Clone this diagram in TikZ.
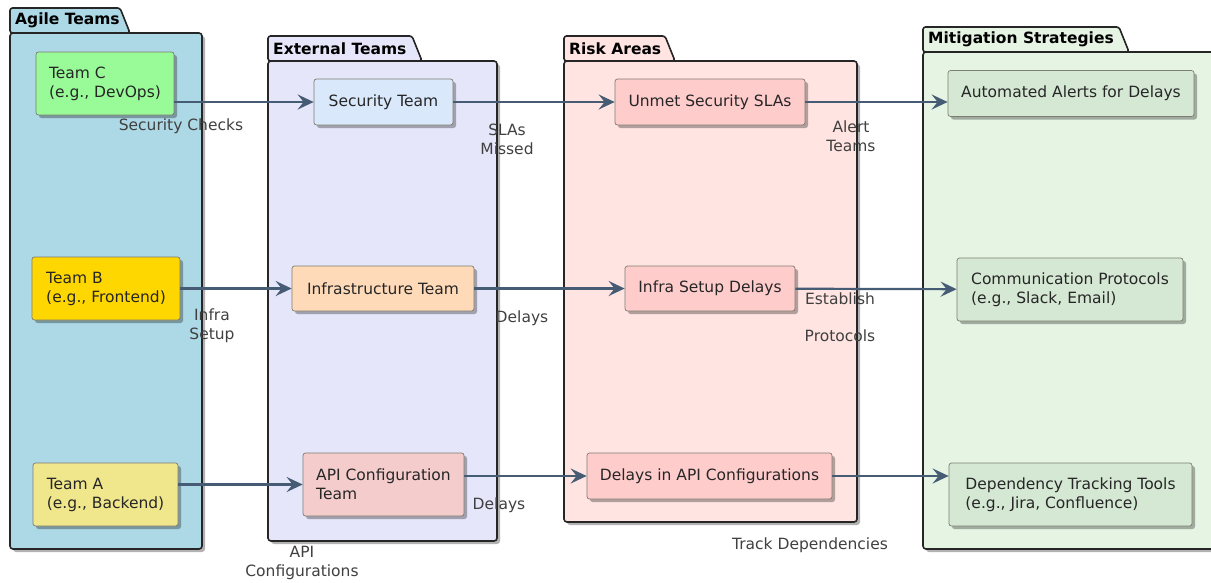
\documentclass[tikz,border=0pt]{standalone}
\usepackage{fontspec}
\setmainfont{DejaVu Sans}
\usepackage{xcolor}
\usepackage{tikz}
\usetikzlibrary{arrows.meta,shadows,positioning,calc}

\definecolor{linkcol}{RGB}{70,92,116}
\definecolor{boxline}{RGB}{125,125,112}
\definecolor{agilebg}{HTML}{ADD8E6}
\definecolor{extbg}{HTML}{E6E6FA}
\definecolor{riskbg}{HTML}{FFE4E1}
\definecolor{mitbg}{HTML}{E6F4E4}
\definecolor{teamCcol}{HTML}{98FB98}
\definecolor{teamBcol}{HTML}{FFD700}
\definecolor{teamAcol}{HTML}{F0E68C}
\definecolor{seccol}{HTML}{DAE8FC}
\definecolor{infracol}{HTML}{FFDAB9}
\definecolor{apicol}{HTML}{F4CCCC}
\definecolor{riskcol}{HTML}{FFCCCC}
\definecolor{mitcol}{HTML}{D5E8D4}

\tikzset{
  soft shadow/.style={drop shadow={shadow xshift=3pt,shadow yshift=-3pt,opacity=.3,fill=black}},
  box/.style={draw=boxline,line width=.7pt,rounded corners=2.5pt,soft shadow,
    inner sep=0pt,align=left,text=black!85,font=\fontsize{15.5}{19}\selectfont},
  link/.style={draw=linkcol,line width=2.2pt,-{Stealth[length=16pt,width=15pt,inset=6pt]}},
  lbl/.style={inner sep=0pt,align=center,text=black!75,font=\fontsize{15.5}{19}\selectfont},
  pkgline/.style={draw=black!85,line width=1.6pt},
}

% 包：#1 名称 #2 填充色 #3 x0 #4 标签顶 #5 标签右 #6 x1 #7 y1 #8 标题
\newcommand{\pkgbox}[8]{%
  \filldraw[pkgline,fill=#2,rounded corners=3pt,soft shadow] (#3,#4+25) rectangle (#6,#7);
  \filldraw[pkgline,fill=#2,rounded corners=2.5pt] (#3,#4+25) -- (#3,#4) -- (#5,#4) -- (#5+10,#4+25) -- cycle;
  \node[anchor=west,inner sep=0pt,font=\fontsize{15.5}{19}\selectfont\bfseries] (#1) at (#3+5,#4+12.5) {#8};
}

\begin{document}
\begin{tikzpicture}[x=1pt,y=-1pt]
  \useasboundingbox (0,0) rectangle (1211,582);
  \clip (0,0) rectangle (1211,582); % 右侧包超出画面
  \pkgbox{agile}{agilebg}{10}{8}{120}{202}{549}{Agile Teams}
  \pkgbox{ext}{extbg}{268}{36}{412}{497}{541}{External Teams}
  \pkgbox{risk}{riskbg}{564}{36}{665}{857}{522}{Risk Areas}
  \pkgbox{mit}{mitbg}{923}{27}{1119}{1240}{549}{Mitigation Strategies}

  \node[box,fill=teamCcol,minimum width=138pt,minimum height=63pt] (teamC) at (105,83.5) {Team C\\(e.g., DevOps)};
  \node[box,fill=teamBcol,minimum width=148pt,minimum height=63pt] (teamB) at (106,288.5) {Team B\\(e.g., Frontend)};
  \node[box,fill=teamAcol,minimum width=145pt,minimum height=63pt] (teamA) at (105.5,494.5) {Team A\\(e.g., Backend)};

  \node[box,fill=seccol,minimum width=139pt,minimum height=46pt] (secT) at (383.5,102) {Security Team};
  \node[box,fill=infracol,minimum width=182pt,minimum height=45pt] (infraT) at (383,288.5) {Infrastructure Team};
  \node[box,fill=apicol,minimum width=161pt,minimum height=63pt] (apiT) at (383.5,484.5) {API Configuration\\Team};

  \node[box,fill=riskcol,minimum width=190pt,minimum height=46pt] (unmet) at (710,102) {Unmet Security SLAs};
  \node[box,fill=riskcol,minimum width=170pt,minimum height=45pt] (infraD) at (710,288.5) {Infra Setup Delays};
  \node[box,fill=riskcol,minimum width=245pt,minimum height=46pt] (apiD) at (709.5,476) {Delays in API Configurations};

  \node[box,fill=mitcol,minimum width=246pt,minimum height=46pt] (alerts) at (1071,93.5) {Automated Alerts for Delays};
  \node[box,fill=mitcol,minimum width=226pt,minimum height=63pt] (comm) at (1070,289.5) {Communication Protocols\\(e.g., Slack, Email)};
  \node[box,fill=mitcol,minimum width=243pt,minimum height=63pt] (track) at (1070.5,494.5) {Dependency Tracking Tools\\(e.g., Jira, Confluence)};

  \draw[link] (teamC.east |- secT.west) -- (secT.west);
  \draw[link] (teamB) -- (infraT);
  \draw[link] (teamA.east |- apiT.west) -- (apiT.west);
  \draw[link] (secT) -- (unmet);
  \draw[link] (infraT) -- (infraD);
  \draw[link] (apiT.east |- apiD.west) -- (apiD.west);
  \draw[link] (unmet.east) -- (unmet.east -| alerts.west);
  \draw[link] (infraD) -- (comm);
  \draw[link] (apiD.east) -- (apiD.east -| track.west);

  % 连线标签
  \node[lbl] (lsec) at (181,126) {Security Checks};
  \node[lbl] (lsla) at (507,139) {SLAs\\Missed};
  \node[lbl] (lalert) at (851,136) {Alert\\Teams};
  \node[lbl] (linfra) at (212,326) {Infra\\Setup};
  \node[lbl] (ldelay) at (522,318) {Delays};
  \node[lbl] (lproto) at (840,317.5) {Establish\\[18pt]Protocols};
  \node[lbl] (lapidelay) at (499,505) {Delays};
  \node[lbl] (lapi) at (302,563) {API\\Configurations};
  \node[lbl] (ltrack) at (810,545) {Track Dependencies};
\end{tikzpicture}
\end{document}
